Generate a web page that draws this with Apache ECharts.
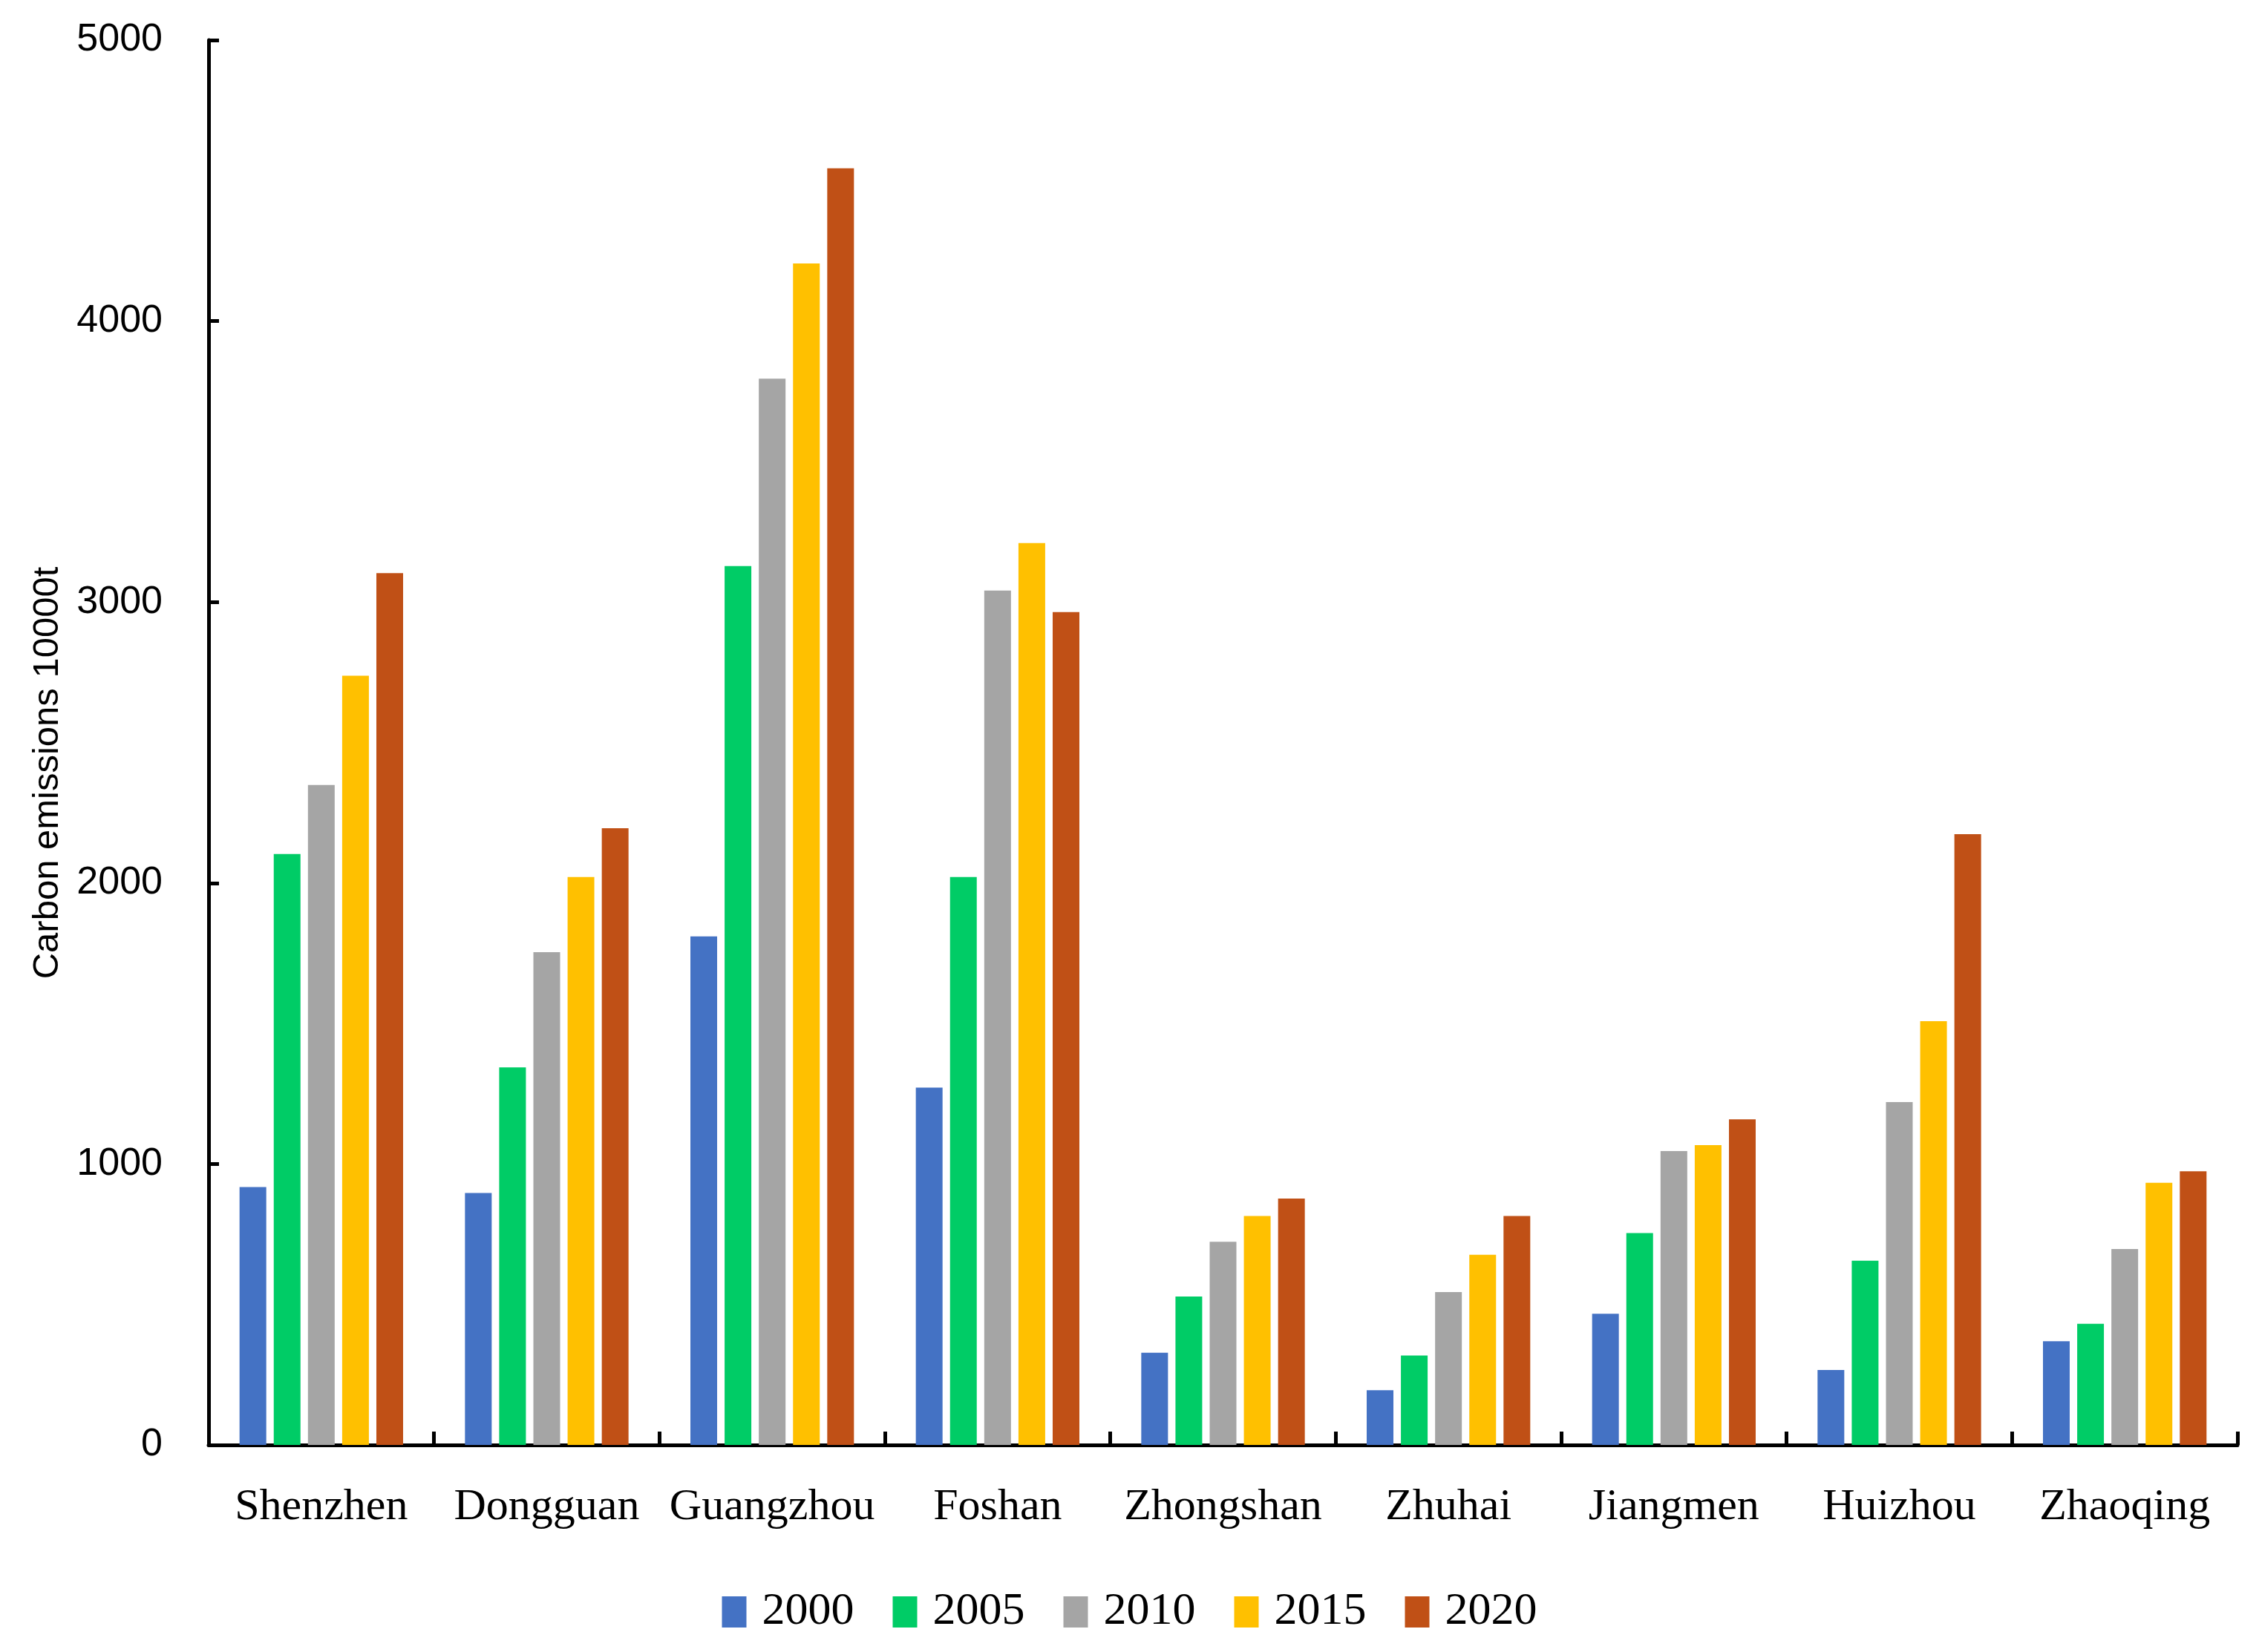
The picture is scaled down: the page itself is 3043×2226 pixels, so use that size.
<!DOCTYPE html>
<html>
<head>
<meta charset="utf-8">
<script src="https://cdn.jsdelivr.net/npm/echarts@6/dist/echarts.min.js"></script>
<style>html,body{margin:0;padding:0;background:#fff}#c{width:3043px;height:2226px}</style>
</head>
<body>
<div id="c"></div>
<script>
const cities = ['Shenzhen','Dongguan','Guangzhou','Foshan','Zhongshan','Zhuhai','Jiangmen','Huizhou','Zhaoqing'];
const years = ['2000','2005','2010','2015','2020'];
const v2000 = [918, 897, 1810, 1272, 328, 195, 467, 267, 369];
const v2005 = [2103, 1344, 3128, 2021, 528, 318, 754, 656, 431];
const v2010 = [2349, 1754, 3795, 3041, 723, 544, 1046, 1220, 697];
const v2015 = [2738, 2021, 4205, 3210, 815, 677, 1067, 1508, 933];
const v2020 = [3103, 2195, 4544, 2964, 877, 815, 1159, 2174, 974];
const colors = ['#4472C4','#00CC66','#A5A5A5','#FFC000','#C05016'];
const seriesData = [v2000, v2005, v2010, v2015, v2020];

const chart = echarts.init(document.getElementById('c'));
chart.setOption({
  animation: false,
  color: colors,
  grid: {left: 281, right: 29, top: 54, bottom: 279, containLabel: false},
  legend: {
    data: years,
    top: 2136,
    left: 'center',
    icon: 'rect',
    itemWidth: 33,
    itemHeight: 42,
    itemGap: 52,
    textStyle: {fontFamily: 'Liberation Serif', fontSize: 62, color: '#000', padding: [0,0,0,16]}
  },
  xAxis: {
    type: 'category',
    data: cities,
    axisLine: {lineStyle: {color: '#000', width: 5}},
    axisTick: {show: true, inside: true, length: 18, lineStyle: {color: '#000', width: 5}},
    axisLabel: {fontFamily: 'Liberation Serif', fontSize: 60, color: '#000', margin: 54, interval: 0}
  },
  yAxis: {
    type: 'value',
    min: 0, max: 5000, interval: 1000,
    name: 'Carbon emissions 10000t',
    nameLocation: 'middle',
    nameGap: 192,
    nameTextStyle: {fontFamily: 'Liberation Sans', fontSize: 49, color: '#000', padding: [0, 82, 0, 0]},
    axisLine: {show: true, lineStyle: {color: '#000', width: 5}},
    axisTick: {show: true, inside: true, length: 14, lineStyle: {color: '#000', width: 5}},
    axisLabel: {fontFamily: 'Liberation Sans', fontSize: 52, color: '#000', margin: 62, formatter: v => String(v)},
    splitLine: {show: false}
  },
  series: years.map((y, i) => ({
    name: y,
    type: 'bar',
    data: seriesData[i],
    barWidth: 36,
    barGap: '28%',
    itemStyle: {color: colors[i]}
  }))
});
</script>
</body>
</html>
